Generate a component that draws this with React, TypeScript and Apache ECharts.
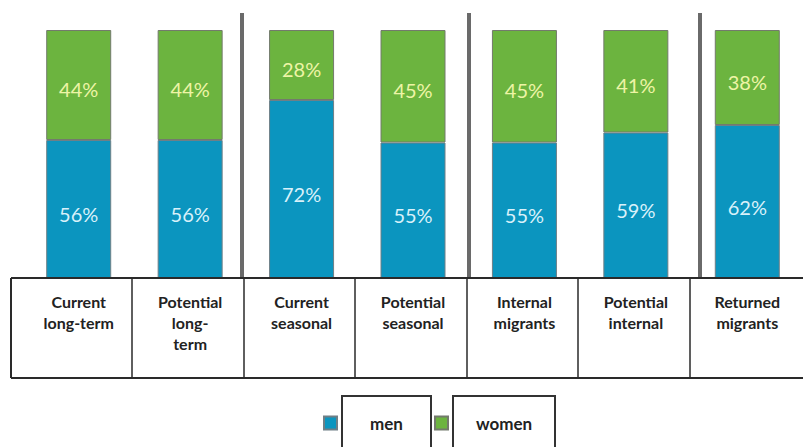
import React, { useEffect, useRef } from "react";
import * as echarts from "echarts";

const categories = [
  "Current\nlong-term",
  "Potential\nlong-\nterm",
  "Current\nseasonal",
  "Potential\nseasonal",
  "Internal\nmigrants",
  "Potential\ninternal",
  "Returned\nmigrants",
];
const men = [56, 56, 72, 55, 55, 59, 62];
const women = [44, 44, 28, 45, 45, 41, 38];
const seriesNames = ["men", "women"];
const separatorsAfter = [1, 3, 5];
const separatorOffsets = [-4, 0, 8];

export default function App() {
  const ref = useRef<HTMLDivElement>(null);
  useEffect(() => {
    const chart = echarts.init(ref.current!, null, { renderer: "svg" });
    const font = "Lato, 'Open Sans', sans-serif";
    const boxStyle = {
      height: 54,
      align: "center",
      borderColor: "#333",
      borderWidth: 2,
      fontFamily: font,
      fontSize: 17,
      fontWeight: "bold",
      color: "#222",
    };
    chart.setOption({
      animation: false,
      backgroundColor: "#ffffff",
      grid: { left: 23, right: 0, top: 30, bottom: 167 },
      xAxis: {
        type: "category",
        data: categories,
        axisLine: { show: false },
        axisTick: { show: false },
        axisLabel: {
          margin: 11,
          fontFamily: font,
          fontSize: 16,
          fontWeight: "bold",
          color: "#222",
          lineHeight: 21,
          interval: 0,
        },
      },
      yAxis: { type: "value", min: 0, max: 100, show: false },
      legend: {
        data: seriesNames,
        left: 323,
        top: 395,
        padding: 0,
        itemGap: 2,
        itemWidth: 13,
        itemHeight: 13,
        icon: "rect",
        formatter: (name: string) => (name === "men" ? `{m|${name}}` : `{w|${name}}`),
        textStyle: {
          rich: {
            m: { ...boxStyle, width: 89 },
            w: { ...boxStyle, width: 102 },
          },
        },
      },
      series: [
        {
          name: "men",
          type: "bar",
          stack: "total",
          data: men,
          barWidth: 65,
          itemStyle: { color: "#0b95bf", borderColor: "#6f7f86", borderWidth: 1 },
          label: {
            show: true,
            position: "inside",
            offset: [0, 4],
            formatter: "{c}%",
            fontFamily: font,
            fontSize: 20,
            color: "#d9f1fa",
          },
        },
        {
          name: "women",
          type: "bar",
          stack: "total",
          data: women,
          barWidth: 65,
          itemStyle: { color: "#6cb43f", borderColor: "#737a6c", borderWidth: 1 },
          label: {
            show: true,
            position: "inside",
            offset: [0, 4],
            formatter: "{c}%",
            fontFamily: font,
            fontSize: 20,
            color: "#eef4a6",
          },
        },
      ],
    });

    const c0 = chart.convertToPixel({ xAxisIndex: 0 }, 0) as number;
    const c1 = chart.convertToPixel({ xAxisIndex: 0 }, 1) as number;
    const band = c1 - c0;
    const yBase = chart.convertToPixel({ yAxisIndex: 0 }, 0) as number;
    const tableTop = yBase - 2;
    const tableBottom = tableTop + 100;
    const tableLeft = 11;
    const width = chart.getWidth();
    const graphics: any[] = [];
    const edge = { stroke: "#2a2a2a", lineWidth: 2 };
    graphics.push({ type: "line", shape: { x1: tableLeft, y1: tableTop, x2: width, y2: tableTop }, style: edge, z: 10 });
    graphics.push({ type: "line", shape: { x1: tableLeft, y1: tableBottom, x2: width, y2: tableBottom }, style: edge, z: 10 });
    graphics.push({ type: "line", shape: { x1: tableLeft, y1: tableTop, x2: tableLeft, y2: tableBottom }, style: edge, z: 10 });
    graphics.push({
      type: "rect",
      shape: { x: tableLeft, y: tableTop + 1, width: width - tableLeft, height: 8 },
      style: { fill: "#ffffff" },
      z: 9,
    });
    for (let k = 1; k < categories.length; k++) {
      const x = Math.round(c0 + (k - 0.5) * band) - 2;
      graphics.push({
        type: "line",
        shape: { x1: x, y1: tableTop, x2: x, y2: tableBottom },
        style: { stroke: "#2a2a2a", lineWidth: 1.5 },
        z: 10,
      });
    }
    separatorsAfter.forEach((i, j) => {
      const x = Math.round(c0 + (i + 0.5) * band) + separatorOffsets[j];
      graphics.push({
        type: "line",
        shape: { x1: x, y1: 13, x2: x, y2: tableTop },
        style: { stroke: "#6a6a6a", lineWidth: 4 },
        z: 5,
      });
    });
    chart.setOption({ graphic: graphics });
    return () => chart.dispose();
  }, []);
  return <div ref={ref} style={{ width: 803, height: 447, position: "absolute", left: 0, top: 0 }} />;
}
